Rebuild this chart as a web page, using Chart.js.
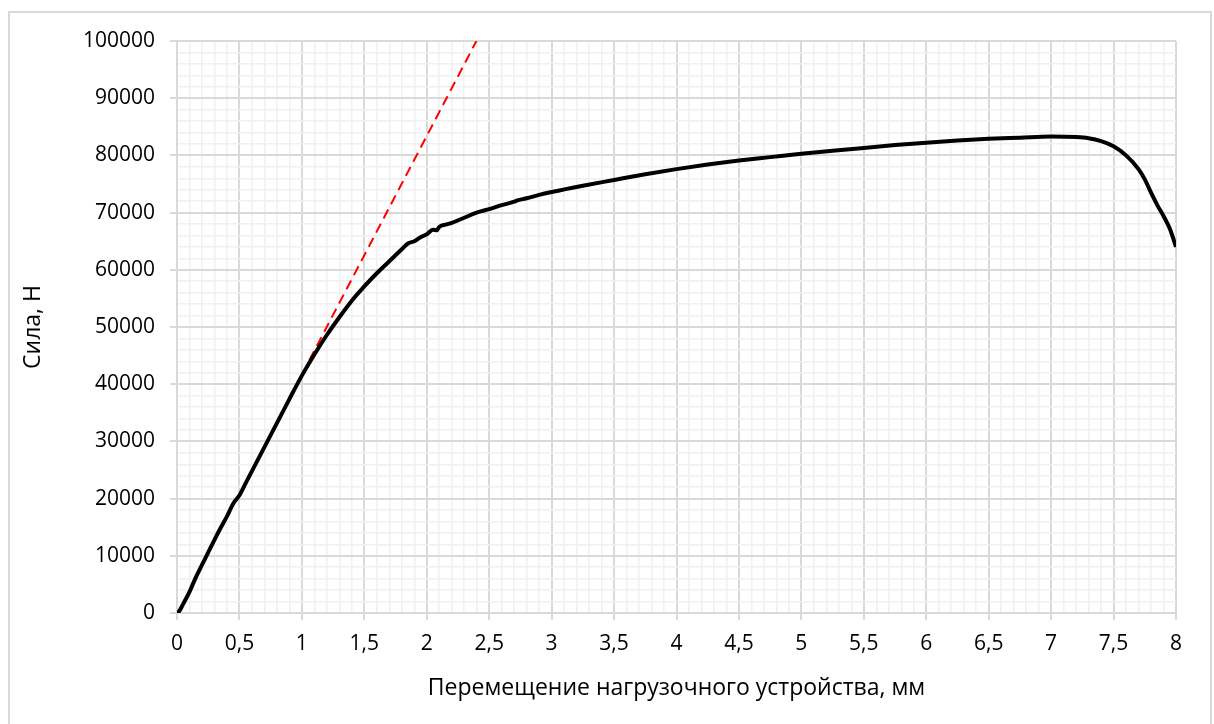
<!DOCTYPE html>
<html lang="ru">
<head>
  <meta charset="UTF-8" />
  <title>Сила – перемещение</title>
  <script src="https://cdn.jsdelivr.net/npm/chart.js"></script>
  <style>
    html, body { margin: 0; padding: 0; background: #fff; }
    #wrap { position: relative; width: 1214px; height: 724px; overflow: hidden; }
    #frame {
      position: absolute; left: 8px; top: 11px; width: 1200px; height: 730px;
      border: 2px solid #d9d9d9; pointer-events: none;
    }
    #forceChart { position: absolute; left: 0; top: 0; }
  </style>
</head>
<body>
  <div id="wrap">
    <canvas id="forceChart" width="1214" height="724"></canvas>
    <div id="frame"></div>
  </div>

  <script>
    // Перемещение, мм
    const displacement = [
      0, 0.02, 0.05, 0.1, 0.15, 0.2, 0.25, 0.3, 0.35, 0.4, 0.45, 0.5, 0.55, 0.6,
      0.7, 0.8, 0.9, 1.0, 1.1, 1.2, 1.3, 1.4, 1.5, 1.6, 1.7, 1.8, 1.85, 1.9, 1.95,
      2.0, 2.05, 2.08, 2.1, 2.15, 2.2, 2.3, 2.4, 2.5, 2.6, 2.7, 2.72, 2.8, 2.9,
      3.0, 3.25, 3.5, 3.75, 4.0, 4.25, 4.5, 4.75, 5.0, 5.25, 5.5, 5.75, 6.0, 6.25,
      6.5, 6.75, 7.0, 7.2, 7.3, 7.4, 7.5, 7.6, 7.7, 7.75, 7.8, 7.85, 7.9, 7.95, 8.0
    ];
    // Сила, Н
    const force = [
      0, 400, 1600, 3700, 6200, 8400, 10600, 12800, 14900, 16900, 19100, 20600, 22700, 24800,
      29000, 33200, 37400, 41500, 45200, 48600, 51700, 54600, 57100, 59400, 61500, 63600, 64600, 65000, 65700,
      66200, 67000, 66900, 67500, 67900, 68200, 69100, 70000, 70600, 71300, 71900, 72100, 72500, 73100,
      73600, 74700, 75700, 76700, 77600, 78400, 79100, 79700, 80300, 80800, 81300, 81800, 82200, 82600,
      82900, 83100, 83300, 83200, 83000, 82500, 81600, 80000, 77600, 75800, 73500, 71300, 69400, 67200, 64000
    ];
    // касательная к упругому участку
    const tangentX = [1.06, 2.398];
    const tangentY = [44200, 100000];

    const X_MIN = 0, X_MAX = 8, X_STEP = 0.1;
    const Y_MIN = 0, Y_MAX = 100000, Y_STEP = 2000;

    const toPoints = (xs, ys) => xs.map((x, i) => ({ x: x, y: ys[i] }));

    const FAMILY = "'Open Sans', 'Noto Sans', sans-serif";
    const TICK_FONT = { family: FAMILY, size: 21 };
    const TITLE_FONT = { family: FAMILY, size: 23 };
    const MAJOR = '#d9d9d9';
    const MINOR = '#f0f0f0';

    // every 5th tick is a major one
    const isMajor = ctx => ctx.index % 5 === 0;
    const gridOpts = {
      color: ctx => isMajor(ctx) ? MAJOR : MINOR,
      lineWidth: ctx => isMajor(ctx) ? 2 : 1.5,
      tickColor: ctx => isMajor(ctx) ? MAJOR : 'rgba(0,0,0,0)',
      tickLength: 7,
      drawTicks: true
    };

    const ctx = document.getElementById('forceChart').getContext('2d');
    new Chart(ctx, {
      type: 'scatter',
      data: {
        datasets: [
          {
            data: toPoints(displacement, force),
            showLine: true,
            borderColor: '#000',
            borderWidth: 4,
            pointRadius: 0,
            cubicInterpolationMode: 'monotone',
            order: 1
          },
          {
            data: toPoints(tangentX, tangentY),
            showLine: true,
            borderColor: '#ff0000',
            borderWidth: 2,
            borderDash: [10, 6],
            pointRadius: 0,
            order: 2
          }
        ]
      },
      options: {
        responsive: false,
        animation: false,
        layout: { padding: { top: 41, right: 38, left: 0, bottom: 0 } },
        plugins: {
          legend: { display: false },
          tooltip: { enabled: false }
        },
        scales: {
          x: {
            type: 'linear',
            min: X_MIN, max: X_MAX,
            grid: gridOpts,
            border: { color: MAJOR, width: 2 },
            ticks: {
              stepSize: X_STEP,
              autoSkip: false,
              maxRotation: 0,
              padding: 11,
              color: '#000',
              font: TICK_FONT,
              callback: (v, i) => i % 5 === 0 ? String(Math.round(v * 10) / 10).replace('.', ',') : ''
            },
            title: {
              display: true,
              text: 'Перемещение нагрузочного устройства, мм',
              color: '#000',
              font: TITLE_FONT,
              padding: { top: 0, bottom: 22 }
            },
            afterFit: scale => { scale.height = 111; }
          },
          y: {
            type: 'linear',
            min: Y_MIN, max: Y_MAX,
            grid: gridOpts,
            border: { color: MAJOR, width: 2 },
            ticks: {
              stepSize: Y_STEP,
              autoSkip: false,
              padding: 15,
              color: '#000',
              font: TICK_FONT,
              callback: (v, i) => i % 5 === 0 ? String(Math.round(v)) : ''
            },
            title: {
              display: true,
              text: 'Сила, Н',
              color: '#000',
              font: TITLE_FONT,
              padding: { top: 20, bottom: 0 }
            },
            afterFit: scale => { scale.width = 177; }
          }
        }
      }
    });
  </script>
</body>
</html>
